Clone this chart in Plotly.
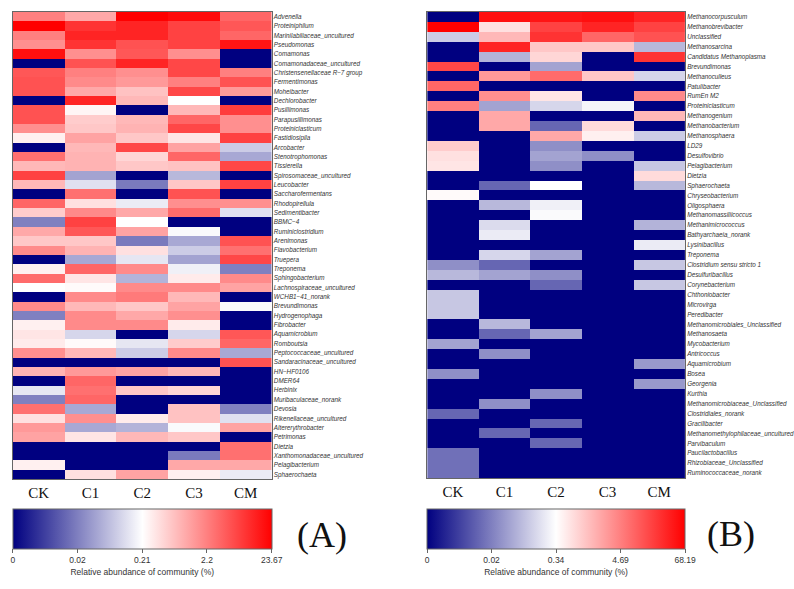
import plotly.graph_objects as go

samples = ["CK", "C1", "C2", "C3", "CM"]

genera_a = [
    "Advenella", "Proteiniphilum", "Marinilabiliaceae_uncultured", "Pseudomonas", "Comamonas",
    "Comamonadaceae_uncultured", "Christensenellaceae R\u22127 group", "Fermentimonas", "Moheibacter",
    "Dechlorobacter", "Pusillimonas", "Parapusillimonas", "Proteiniclasticum", "Fastidiosipila",
    "Arcobacter", "Stenotrophomonas", "Tissierella", "Spirosomaceae_uncultured", "Leucobacter",
    "Saccharofermentans", "Rhodopirellula", "Sedimentibacter", "BBMC\u22124", "Ruminiclostridium",
    "Arenimonas", "Flavobacterium", "Truepera", "Treponema", "Sphingobacterium",
    "Lachnospiraceae_uncultured", "WCHB1\u221241_norank", "Brevundimonas", "Hydrogenophaga",
    "Fibrobacter", "Aquamicrobium", "Romboutsia", "Peptococcaceae_uncultured",
    "Sandaracinaceae_uncultured", "HN\u2212HF0106", "DMER64", "Herbinix", "Muribaculaceae_norank",
    "Devosia", "Rikenellaceae_uncultured", "Altererythrobacter", "Petrimonas", "Dietzia",
    "Xanthomonadaceae_uncultured", "Pelagibacterium", "Sphaerochaeta",
]

# colour level on the (log-like) abundance scale, 0 = lowest, 1 = highest; columns CK, C1, C2, C3, CM
level_a = [
    [0.75, 0.67, 1.00, 0.98, 0.80],
    [1.00, 0.90, 0.93, 0.87, 0.83],
    [0.75, 0.93, 0.93, 0.87, 0.80],
    [0.72, 0.90, 0.84, 0.87, 0.96],
    [0.97, 0.72, 0.83, 0.72, 0.00],
    [0.00, 0.84, 0.93, 0.86, 0.00],
    [0.83, 0.75, 0.72, 0.86, 0.75],
    [0.84, 0.73, 0.70, 0.75, 0.84],
    [0.84, 0.67, 0.62, 0.86, 0.70],
    [0.00, 0.93, 0.64, 0.50, 0.00],
    [0.84, 0.52, 0.00, 0.64, 0.88],
    [0.84, 0.60, 0.64, 0.80, 0.72],
    [0.72, 0.61, 0.65, 0.86, 0.72],
    [0.53, 0.68, 0.61, 0.55, 0.87],
    [0.00, 0.64, 0.86, 0.68, 0.40],
    [0.78, 0.65, 0.58, 0.80, 0.33],
    [0.64, 0.65, 0.61, 0.62, 0.86],
    [0.87, 0.32, 0.00, 0.36, 0.00],
    [0.64, 0.44, 0.24, 0.61, 0.87],
    [0.00, 0.78, 0.00, 0.84, 0.00],
    [0.80, 0.56, 0.46, 0.72, 0.72],
    [0.60, 0.73, 0.67, 0.79, 0.44],
    [0.25, 0.87, 0.50, 0.00, 0.00],
    [0.67, 0.83, 0.68, 0.49, 0.00],
    [0.61, 0.61, 0.24, 0.33, 0.84],
    [0.73, 0.65, 0.56, 0.40, 0.78],
    [0.00, 0.33, 0.45, 0.32, 0.86],
    [0.53, 0.80, 0.73, 0.47, 0.25],
    [0.79, 0.55, 0.35, 0.54, 0.73],
    [0.50, 0.51, 0.73, 0.73, 0.68],
    [0.00, 0.73, 0.76, 0.64, 0.00],
    [0.73, 0.64, 0.61, 0.68, 0.49],
    [0.25, 0.73, 0.67, 0.72, 0.00],
    [0.53, 0.73, 0.73, 0.54, 0.00],
    [0.55, 0.42, 0.00, 0.42, 0.83],
    [0.54, 0.51, 0.45, 0.60, 0.80],
    [0.72, 0.64, 0.40, 0.73, 0.33],
    [0.00, 0.00, 0.00, 0.00, 0.84],
    [0.65, 0.70, 0.68, 0.64, 0.00],
    [0.00, 0.80, 0.00, 0.00, 0.00],
    [0.45, 0.78, 0.61, 0.58, 0.00],
    [0.25, 0.80, 0.00, 0.00, 0.00],
    [0.78, 0.33, 0.00, 0.62, 0.25],
    [0.56, 0.72, 0.54, 0.62, 0.44],
    [0.70, 0.33, 0.35, 0.49, 0.68],
    [0.68, 0.55, 0.64, 0.61, 0.00],
    [0.00, 0.00, 0.00, 0.00, 0.78],
    [0.00, 0.00, 0.00, 0.24, 0.78],
    [0.53, 0.00, 0.00, 0.67, 0.67],
    [0.00, 0.56, 0.68, 0.53, 0.46],
]

genera_b = [
    "Methanocorpusculum", "Methanobrevibacter", "Unclassified", "Methanosarcina",
    "Candidatus Methanoplasma", "Brevundimonas", "Methanoculleus", "Patulibacter", "RumEn M2",
    "Proteiniclasticum", "Methanogenium", "Methanobacterium", "Methanosphaera", "LD29",
    "Desulfovibrio", "Pelagibacterium", "Dietzia", "Sphaerochaeta", "Chryseobacterium",
    "Oligosphaera", "Methanomassiliicoccus", "Methanimicrococcus", "Bathyarchaeia_norank",
    "Lysinibacillus", "Treponema", "Clostridium sensu stricto 1", "Desulfuribacillus",
    "Corynebacterium", "Chthoniobacter", "Microvirga", "Peredibacter",
    "Methanomicrobiales_Unclassified", "Methanosaeta", "Mycobacterium", "Antricoccus",
    "Aquamicrobium", "Bosea", "Georgenia", "Kurthia", "Methanomicrobiaceae_Unclassified",
    "Clostridiales_norank", "Gracilibacter", "Methanomethylophilaceae_uncultured", "Parvibaculum",
    "Paucilactobacillus", "Rhizobiaceae_Unclassified", "Ruminococcaceae_norank",
]

level_b = [
    [0.00, 0.97, 0.96, 0.97, 0.93],
    [1.00, 0.56, 0.87, 0.93, 0.87],
    [0.40, 0.64, 0.90, 0.80, 0.84],
    [0.00, 0.93, 0.61, 0.61, 0.36],
    [0.00, 0.35, 0.58, 0.00, 0.90],
    [0.86, 0.00, 0.32, 0.00, 0.00],
    [0.00, 0.70, 0.79, 0.61, 0.42],
    [0.80, 0.00, 0.00, 0.00, 0.00],
    [0.00, 0.72, 0.55, 0.00, 0.73],
    [0.75, 0.32, 0.42, 0.48, 0.00],
    [0.00, 0.67, 0.00, 0.00, 0.64],
    [0.00, 0.67, 0.20, 0.57, 0.00],
    [0.00, 0.00, 0.67, 0.53, 0.40],
    [0.60, 0.00, 0.28, 0.00, 0.00],
    [0.56, 0.00, 0.32, 0.28, 0.00],
    [0.55, 0.00, 0.28, 0.00, 0.39],
    [0.00, 0.00, 0.00, 0.00, 0.57],
    [0.00, 0.20, 0.50, 0.00, 0.36],
    [0.51, 0.00, 0.00, 0.00, 0.00],
    [0.00, 0.36, 0.47, 0.00, 0.00],
    [0.00, 0.00, 0.49, 0.00, 0.00],
    [0.00, 0.43, 0.00, 0.00, 0.35],
    [0.00, 0.46, 0.00, 0.00, 0.00],
    [0.00, 0.00, 0.00, 0.00, 0.46],
    [0.00, 0.42, 0.32, 0.00, 0.00],
    [0.28, 0.20, 0.00, 0.00, 0.39],
    [0.36, 0.32, 0.28, 0.00, 0.00],
    [0.00, 0.00, 0.20, 0.00, 0.39],
    [0.39, 0.00, 0.00, 0.00, 0.00],
    [0.39, 0.00, 0.00, 0.00, 0.00],
    [0.39, 0.00, 0.00, 0.00, 0.00],
    [0.00, 0.36, 0.00, 0.00, 0.00],
    [0.00, 0.20, 0.32, 0.00, 0.00],
    [0.32, 0.00, 0.00, 0.00, 0.00],
    [0.00, 0.28, 0.00, 0.00, 0.00],
    [0.00, 0.00, 0.00, 0.00, 0.30],
    [0.28, 0.00, 0.00, 0.00, 0.00],
    [0.00, 0.00, 0.00, 0.00, 0.30],
    [0.00, 0.00, 0.28, 0.00, 0.00],
    [0.00, 0.28, 0.00, 0.00, 0.00],
    [0.20, 0.00, 0.00, 0.00, 0.00],
    [0.00, 0.00, 0.20, 0.00, 0.00],
    [0.00, 0.20, 0.00, 0.00, 0.00],
    [0.00, 0.00, 0.20, 0.00, 0.00],
    [0.22, 0.00, 0.00, 0.00, 0.00],
    [0.22, 0.00, 0.00, 0.00, 0.00],
    [0.22, 0.00, 0.00, 0.00, 0.00],
]

scale_positions = [0, 0.25, 0.5, 0.75, 1]
cbar_labels_a = ["0", "0.02", "0.21", "2.2", "23.67"]
cbar_labels_b = ["0", "0.02", "0.34", "4.69", "68.19"]
cbar_title = "Relative abundance of community (%)"
panel_tags = ["(A)", "(B)"]

W, H = 794, 589
colorscale = [[0, "#000080"], [0.5, "#ffffff"], [1, "#ff0000"]]


def px_x(p):
    return p / W


def px_y(p):
    return 1 - p / H


def cbar(x0, x1, labels):
    return dict(
        orientation="h",
        x=px_x((x0 + x1) / 2), xanchor="center",
        y=px_y(509), yanchor="top",
        len=(x1 - x0) / W, lenmode="fraction",
        thickness=40, thicknessmode="pixels",
        xpad=0, ypad=0,
        outlinewidth=1, outlinecolor="#666",
        tickvals=scale_positions, ticktext=labels,
        ticks="outside", ticklen=4, tickcolor="#666",
        tickfont=dict(family="Liberation Sans", size=8.5, color="#333"),
        title=dict(text=cbar_title, side="bottom",
                   font=dict(family="Liberation Sans", size=8.5, color="#333")),
    )


fig = go.Figure()
fig.add_trace(go.Heatmap(
    x=samples, y=genera_a, z=level_a, zmin=0, zmax=1, colorscale=colorscale,
    xaxis="x", yaxis="y", colorbar=cbar(13, 274, cbar_labels_a), hoverinfo="skip",
))
fig.add_trace(go.Heatmap(
    x=samples, y=genera_b, z=level_b, zmin=0, zmax=1, colorscale=colorscale,
    xaxis="x2", yaxis="y2", colorbar=cbar(431, 691, cbar_labels_b), hoverinfo="skip",
))

xcommon = dict(showline=True, mirror=True, linecolor="#666", linewidth=1, ticks="",
               showgrid=False, zeroline=False,
               tickfont=dict(family="Liberation Serif", size=15, color="#111"))
ycommon = dict(showline=True, mirror=True, linecolor="#666", linewidth=1, ticks="",
               showgrid=False, zeroline=False, side="right", autorange="reversed",
               tickfont=dict(family="Liberation Sans", size=6.3, color="#333"))

fig.update_layout(
    width=W, height=H,
    margin=dict(l=0, r=0, t=0, b=0),
    paper_bgcolor="white", plot_bgcolor="white",
    showlegend=False,
    xaxis=dict(domain=[px_x(13), px_x(274)], anchor="y", **xcommon),
    yaxis=dict(domain=[px_y(479), px_y(12)], anchor="x",
               tickvals=genera_a, ticktext=["<i>" + g + "</i>" for g in genera_a], **ycommon),
    xaxis2=dict(domain=[px_x(431), px_x(691)], anchor="y2", **xcommon),
    yaxis2=dict(domain=[px_y(478), px_y(12)], anchor="x2",
                tickvals=genera_b, ticktext=["<i>" + g + "</i>" for g in genera_b], **ycommon),
    annotations=[
        dict(text=panel_tags[0], x=px_x(325), y=px_y(535), xref="paper", yref="paper",
             showarrow=False, xanchor="center", yanchor="middle",
             font=dict(family="Liberation Serif", size=36, color="#111")),
        dict(text=panel_tags[1], x=px_x(738), y=px_y(534), xref="paper", yref="paper",
             showarrow=False, xanchor="center", yanchor="middle",
             font=dict(family="Liberation Serif", size=36, color="#111")),
    ],
)

fig.write_html("out.html")
